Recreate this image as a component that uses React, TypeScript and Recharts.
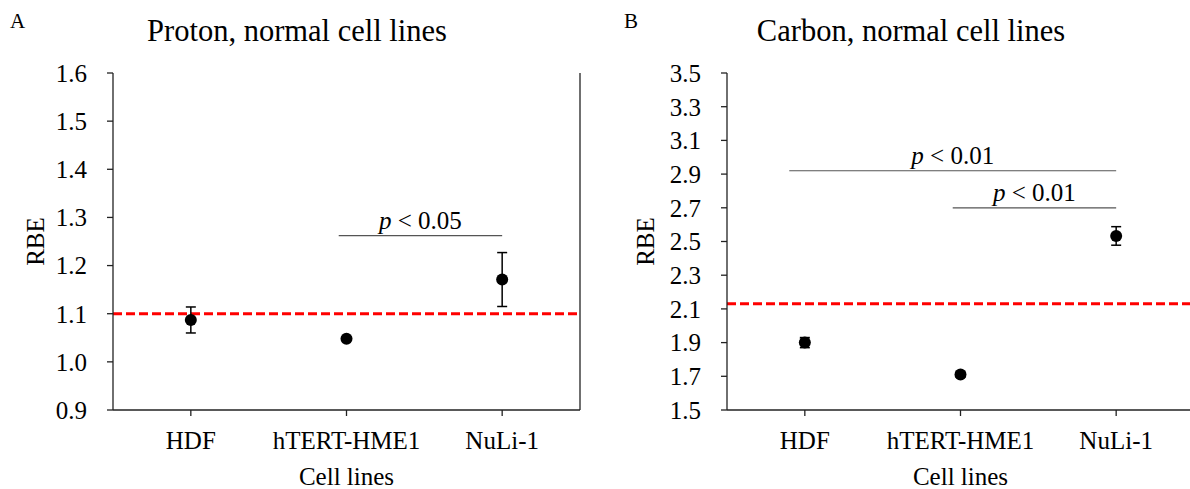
import React from 'react';
import {
  ComposedChart, Scatter, XAxis, YAxis, ErrorBar, ReferenceLine,
} from 'recharts';

const categories = ['HDF', 'hTERT-HME1', 'NuLi-1'];

const protonRBE = [1.087, 1.048, 1.171];
const protonErr = [0.027, 0.0, 0.056];
const protonTicks = [0.9, 1.0, 1.1, 1.2, 1.3, 1.4, 1.5, 1.6];
const protonRef = 1.1;
const protonSig = [{ from: 1.95, to: 3.0, y: 1.262, text: ' < 0.05' }];

const carbonRBE = [1.9, 1.71, 2.533];
const carbonErr = [0.03, 0.015, 0.055];
const carbonTicks = [1.5, 1.7, 1.9, 2.1, 2.3, 2.5, 2.7, 2.9, 3.1, 3.3, 3.5];
const carbonRef = 2.13;
const carbonSig = [
  { from: 0.9, to: 3.0, y: 2.92, text: ' < 0.01' },
  { from: 1.95, to: 3.0, y: 2.7, text: ' < 0.01' },
];

const FONT = '"Liberation Serif", "Times New Roman", serif';
const AXIS = '#222';

type PanelProps = {
  left: number;
  letter: string;
  title: string;
  values: number[];
  errs: number[];
  ticks: number[];
  refY: number;
  sig: { from: number; to: number; y: number; text: string }[];
  labelOffset: number;
};

const Dot = (props: any) => {
  const { cx, cy } = props;
  if (cx == null || cy == null) return null;
  return <circle cx={cx} cy={cy} r={6} fill="#000" />;
};

function Panel({ left, letter, title, values, errs, ticks, refY, sig, labelOffset }: PanelProps) {
  const data = categories.map((c, i) => ({ x: i + 1, y: values[i], err: errs[i] }));
  const W = 600;
  const H = 489;
  const yMin = ticks[0];
  const yMax = ticks[ticks.length - 1];
  return (
    <div style={{ position: 'absolute', left, top: 0, width: W, height: H }}>
      <ComposedChart
        width={W}
        height={H}
        data={data}
        margin={{ top: 73, right: 20, bottom: 0, left: 0 }}
        style={{ fontFamily: FONT }}
      >
        <XAxis
          xAxisId="top"
          orientation="top"
          type="number"
          dataKey="x"
          domain={[0.5, 3.5]}
          height={0}
          tick={false}
          tickLine={false}
          axisLine={{ stroke: AXIS, strokeWidth: 1.3 }}
        />
        <XAxis
          type="number"
          dataKey="x"
          domain={[0.5, 3.5]}
          ticks={[1, 2, 3]}
          tickFormatter={(v: number) => categories[v - 1] ?? ''}
          height={79}
          tickSize={6}
          tickMargin={15}
          tick={{ fill: '#000', fontSize: 25, fontFamily: FONT }}
          tickLine={{ stroke: AXIS, strokeWidth: 1.3 }}
          axisLine={{ stroke: AXIS, strokeWidth: 1.3 }}
          label={{
            content: (p: any) => {
              const vb = p.viewBox;
              return (
                <text x={vb.x + vb.width / 2} y={vb.y + 75} textAnchor="middle" fontSize={25} fontFamily={FONT} fill="#000">
                  Cell lines
                </text>
              );
            },
          }}
        />
        <YAxis
          type="number"
          domain={[yMin, yMax]}
          ticks={ticks}
          interval={0}
          allowDataOverflow
          tickFormatter={(v: number) => v.toFixed(1)}
          width={113}
          tickSize={6}
          tickMargin={20}
          tick={{ fill: '#000', fontSize: 25, fontFamily: FONT }}
          tickLine={{ stroke: AXIS, strokeWidth: 1.3 }}
          axisLine={{ stroke: AXIS, strokeWidth: 1.3 }}
          label={{
            content: (p: any) => {
              const vb = p.viewBox;
              const cx = vb.x + vb.width - labelOffset;
              const cy = vb.y + vb.height / 2;
              return (
                <text
                  x={cx}
                  y={cy}
                  transform={`rotate(-90, ${cx}, ${cy})`}
                  textAnchor="middle"
                  dominantBaseline="central"
                  fontSize={25}
                  fontFamily={FONT}
                  fill="#000"
                >
                  RBE
                </text>
              );
            },
          }}
        />
        <ReferenceLine
          segment={[{ x: 3.5, y: yMin }, { x: 3.5, y: yMax }]}
          stroke={AXIS}
          strokeWidth={1.3}
        />
        <ReferenceLine
          y={refY}
          stroke="#ff0000"
          strokeWidth={3}
          strokeDasharray="9 4"
        />
        {sig.map((s, i) => (
          <ReferenceLine
            key={i}
            segment={[{ x: s.from, y: s.y }, { x: s.to, y: s.y }]}
            stroke="#555"
            strokeWidth={1.2}
            label={{
              content: (p: any) => {
                const vb = p.viewBox || {};
                const x = (vb.x ?? 0) + (vb.width ?? 0) / 2;
                const y = (vb.y ?? 0) - 7;
                return (
                  <text x={x} y={y} textAnchor="middle" fontSize={25} fontFamily={FONT} fill="#000">
                    <tspan fontStyle="italic">p</tspan>
                    <tspan>{s.text}</tspan>
                  </text>
                );
              },
            }}
          />
        ))}
        <Scatter dataKey="y" isAnimationActive={false} shape={<Dot />}>
          <ErrorBar dataKey="err" direction="y" width={5} stroke="#000" strokeWidth={1.5} />
        </Scatter>
      </ComposedChart>
      <div
        style={{
          position: 'absolute',
          left: 297,
          top: 0,
          transform: 'translateX(-50%)',
          whiteSpace: 'nowrap',
          fontFamily: FONT,
          fontSize: 30.5,
          lineHeight: '1',
          paddingTop: 16,
          color: '#000',
        }}
      >
        {title}
      </div>
      <div
        style={{
          position: 'absolute',
          left: 10,
          top: 0,
          fontFamily: FONT,
          fontSize: 21,
          lineHeight: '1',
          paddingTop: 11,
          color: '#000',
        }}
      >
        {letter}
      </div>
    </div>
  );
}

export default function App() {
  return (
    <div
      style={{
        position: 'absolute',
        left: 0,
        top: 0,
        width: 1190,
        height: 489,
        overflow: 'hidden',
        background: '#fff',
      }}
    >
      <Panel
        left={0}
        letter="A"
        title="Proton, normal cell lines"
        values={protonRBE}
        errs={protonErr}
        ticks={protonTicks}
        refY={protonRef}
        sig={protonSig}
        labelOffset={78}
      />
      <Panel
        left={614}
        letter="B"
        title="Carbon, normal cell lines"
        values={carbonRBE}
        errs={carbonErr}
        ticks={carbonTicks}
        refY={carbonRef}
        sig={carbonSig}
        labelOffset={82}
      />
    </div>
  );
}
